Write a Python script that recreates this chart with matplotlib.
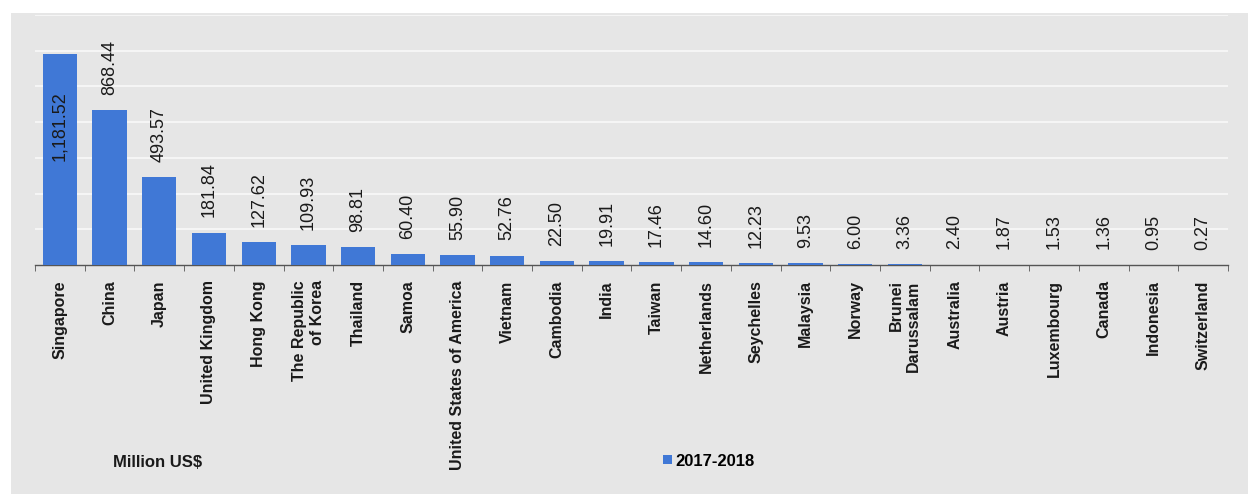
import matplotlib.pyplot as plt
from matplotlib.patches import Rectangle
import numpy as np

countries = ['Singapore', 'China', 'Japan', 'United Kingdom', 'Hong Kong',
             'The Republic\nof Korea', 'Thailand', 'Samoa', 'United States of America',
             'Vietnam', 'Cambodia', 'India', 'Taiwan', 'Netherlands', 'Seychelles',
             'Malaysia', 'Norway', 'Brunei\nDarussalam', 'Australia', 'Austria',
             'Luxembourg', 'Canada', 'Indonesia', 'Switzerland']
values = [1181.52, 868.44, 493.57, 181.84, 127.62, 109.93, 98.81, 60.40, 55.90,
          52.76, 22.50, 19.91, 17.46, 14.60, 12.23, 9.53, 6.00, 3.36, 2.40, 1.87,
          1.53, 1.36, 0.95, 0.27]
series_name = '2017-2018'
unit_label = 'Million US$'

plt.rcParams['font.family'] = ['Liberation Sans', 'DejaVu Sans']

bar_color = '#4078d6'
panel_color = '#e6e6e6'

fig = plt.figure(figsize=(12.58, 4.94), dpi=100)
fig.patch.set_facecolor('white')
# grey panel behind the whole chart
fig.patches.append(Rectangle((11 / 1258, 0), (1248 - 11) / 1258, (494 - 13) / 494,
                             transform=fig.transFigure, facecolor=panel_color,
                             edgecolor='none', zorder=-5))

ax = fig.add_axes([35 / 1258, (494 - 265) / 494, (1228 - 35) / 1258, 250 / 494])
ax.set_zorder(2)
ax.set_facecolor(panel_color)

x = np.arange(len(countries))
bars = ax.bar(x, values, width=0.69, color=bar_color, zorder=3, label=series_name)

ax.set_xlim(-0.5, len(countries) - 0.5)
ax.set_ylim(0, 1400)
ax.set_yticks(np.arange(200, 1401, 200))
ax.yaxis.grid(True, color='#f7f7f7', linewidth=1.3, zorder=1)
ax.set_axisbelow(True)
ax.tick_params(axis='y', left=False, labelleft=False)

for s in ['top', 'right', 'left']:
    ax.spines[s].set_visible(False)
ax.spines['bottom'].set_color('#555555')
ax.spines['bottom'].set_linewidth(1.0)

ax.set_xticks(x)
ax.set_xticklabels(countries, rotation=90, fontsize=11.5, fontweight='bold',
                   color='#1a1a1a', va='top', ha='center', multialignment='right')
ax.tick_params(axis='x', which='major', length=0, pad=11)
ax.set_xticks(np.arange(-0.5, len(countries), 1), minor=True)
ax.tick_params(axis='x', which='minor', length=4, color='#555555')

for i, v in enumerate(values):
    txt = f'{v:,.2f}'
    if i == 0:
        ax.annotate(txt, (x[i], v), xytext=(0, -27), textcoords='offset points',
                    rotation=90, ha='center', va='top', fontsize=13, color='#1a1a1a',
                    zorder=4)
    else:
        ax.annotate(txt, (x[i], v), xytext=(0, 11), textcoords='offset points',
                    rotation=90, ha='center', va='bottom', fontsize=13, color='#1a1a1a',
                    zorder=4)

fig.text(113 / 1258, 1 - 462 / 494, unit_label, fontsize=12, fontweight='bold',
         color='#1a1a1a', va='center', ha='left', zorder=3)

leg = fig.legend(handles=[bars], labels=[series_name], loc='center left',
                 bbox_to_anchor=(655 / 1258, 1 - 461 / 494), frameon=False,
                 prop={'weight': 'bold', 'size': 12}, handlelength=0.5, handleheight=0.5,
                 handletextpad=0.2, borderpad=0)
leg.set_zorder(3)

fig.savefig('out.png', dpi=100)
